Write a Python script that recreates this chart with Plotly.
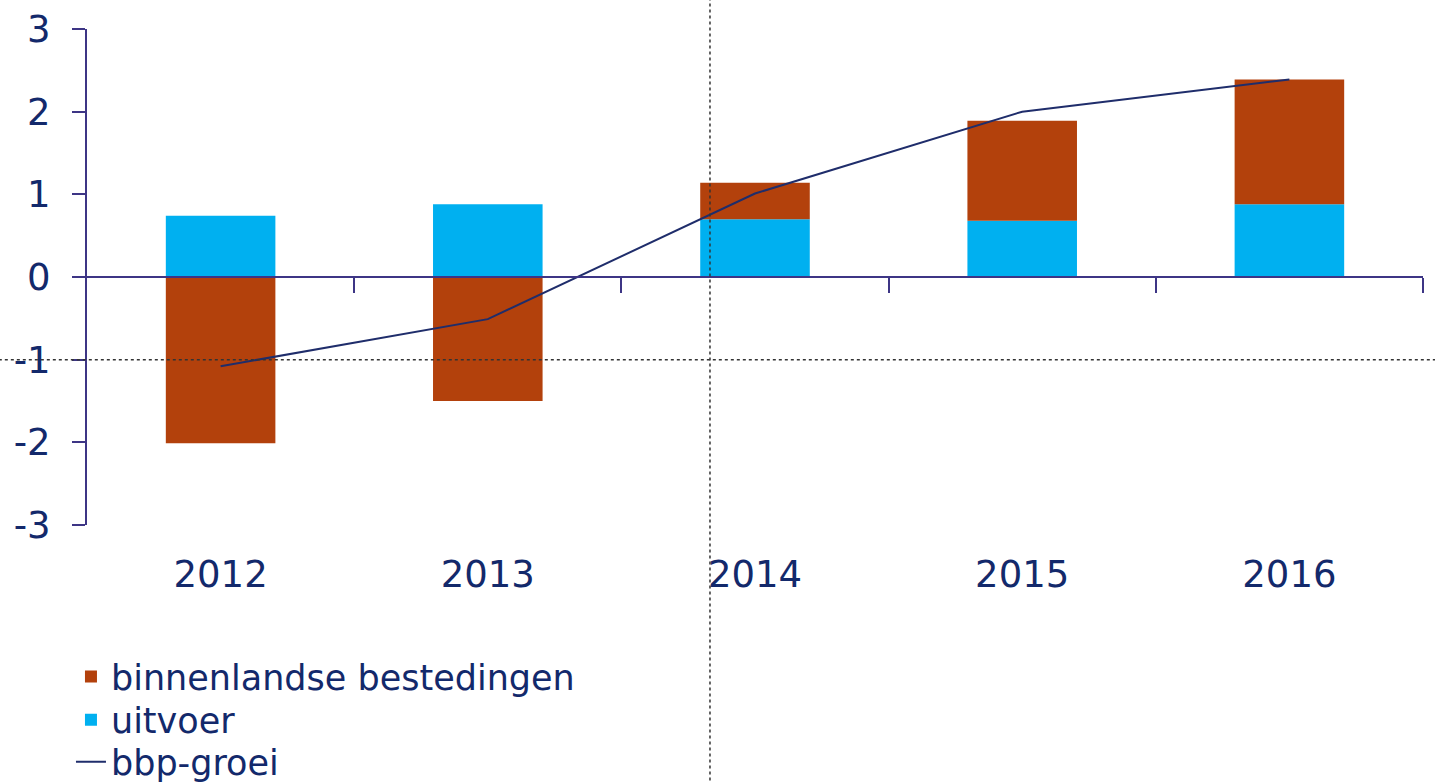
import plotly.graph_objects as go

years = [2012, 2013, 2014, 2015, 2016]
year_labels = ["2012", "2013", "2014", "2015", "2016"]
uitvoer = [0.74, 0.88, 0.70, 0.68, 0.88]
binnenlandse = [-2.01, -1.50, 0.44, 1.21, 1.51]
bbp_groei = [-1.08, -0.51, 1.01, 2.0, 2.39]
y_ticks = [-3, -2, -1, 0, 1, 2, 3]
y_tick_labels = ["-3", "-2", "-1", "0", "1", "2", "3"]

NAVY = "#13296B"
AXIS = "#3D3585"
BROWN = "#B3410C"
CYAN = "#00B0F0"
FONT = "DejaVu Sans"
FS = 37
LFS = 35

fig = go.Figure()
fig.add_trace(go.Bar(x=years, y=uitvoer, name="uitvoer", marker_color=CYAN,
                     marker_line_width=0, width=0.41, legend="legend2"))
fig.add_trace(go.Bar(x=years, y=binnenlandse, name="binnenlandse bestedingen",
                     marker_color=BROWN, marker_line_width=0, width=0.41, legend="legend"))
fig.add_trace(go.Scatter(x=years, y=bbp_groei, name="bbp-groei", mode="lines",
                         line=dict(color="#1F2D6B", width=2), xaxis="x2", legend="legend3"))

leg = dict(x=-0.012, xanchor="left", yanchor="middle",
           font=dict(size=LFS, color=NAVY), bgcolor="rgba(0,0,0,0)", itemwidth=30)

fig.update_layout(
    width=1435, height=782,
    margin=dict(l=87, r=12, t=29, b=257, autoexpand=False),
    plot_bgcolor="white", paper_bgcolor="white",
    barmode="relative",
    font=dict(family=FONT, size=FS, color=NAVY),
    xaxis=dict(range=[2011.5, 2016.5], tickvals=years, ticktext=year_labels,
               showline=False, showgrid=False, zeroline=False, ticks="",
               ticklabelstandoff=24, tickfont=dict(size=FS, color=NAVY), automargin=False),
    xaxis2=dict(range=[2011.5, 2016.5], overlaying="x", anchor="free", position=0.5,
                side="bottom", tickvals=[2012.5, 2013.5, 2014.5, 2015.5, 2016.5],
                ticks="outside", ticklen=15, tickwidth=2, tickcolor=AXIS,
                showticklabels=False, showline=True, linecolor=AXIS, linewidth=2,
                showgrid=False, zeroline=False, automargin=False),
    yaxis=dict(range=[-3, 3], tickvals=y_ticks, ticktext=y_tick_labels, ticks="outside",
               ticklen=13, tickwidth=2, tickcolor=AXIS, showline=True, linecolor=AXIS,
               linewidth=2, showgrid=False, zeroline=False, ticklabelstandoff=14,
               tickfont=dict(size=FS, color=NAVY), automargin=False),
    legend=dict(leg, y=-0.306),
    legend2=dict(leg, y=-0.393),
    legend3=dict(leg, y=-0.478),
    showlegend=True,
)

# crosshair dotted lines present in the reference screenshot
fig.add_shape(type="line", xref="paper", yref="paper", x0=0.4663, x1=0.4663,
              y0=-0.6, y1=1.1, line=dict(color="#333333", width=1.5, dash="dot"))
fig.add_shape(type="line", xref="paper", yref="y", x0=-0.066, x1=1.01,
              y0=-1, y1=-1, line=dict(color="#333333", width=1.5, dash="dot"))

fig.write_html("out.html", config={"displayModeBar": False},
               post_script="document.body.style.margin='0px';document.body.style.overflow='hidden';")
